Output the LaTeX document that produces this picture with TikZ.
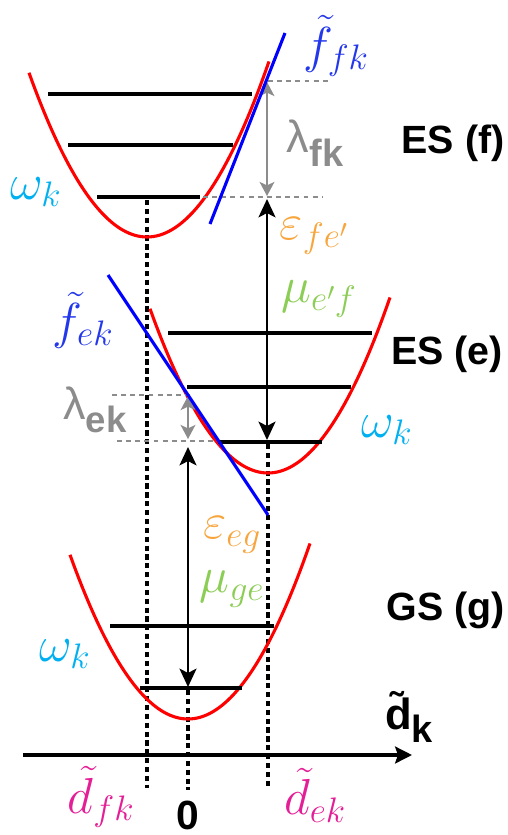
\documentclass[tikz,border=0pt]{standalone}
\usepackage{fix-cm}
\usepackage{amsmath}
\usepackage{fontspec}
\setsansfont{Liberation Sans}
\usetikzlibrary{arrows.meta}
\definecolor{wcyan}{RGB}{0,176,240}
\definecolor{eorange}{RGB}{247,165,60}
\definecolor{mgreen}{RGB}{140,205,85}
\definecolor{dmag}{RGB}{228,30,150}
\definecolor{tblue}{RGB}{35,55,235}
\definecolor{lgray}{RGB}{140,140,140}

\begin{document}
\begin{tikzpicture}[x=0.025cm, y=-0.025cm,
  every node/.style={inner sep=0pt},
  well/.style={red, line width=2.2pt},
  lvl/.style={line width=2.2pt},
  tang/.style={blue, line width=2.2pt},
  guide/.style={line width=2.3pt, dash pattern=on 3.7pt off 2.6pt},
  gdash/.style={lgray, line width=1.5pt, dash pattern=on 3.5pt off 3pt},
  arr/.style={line width=2.1pt, {Stealth[length=13pt, width=12pt, inset=3pt]}-{Stealth[length=13pt, width=12pt, inset=3pt]}},
  garr/.style={lgray, line width=1.6pt, {Stealth[length=10pt, width=10.5pt, inset=2.5pt]}-{Stealth[length=10pt, width=10.5pt, inset=2.5pt]}},
  mlab/.style={font=\fontsize{36}{40}\selectfont},
  state/.style={font=\fontsize{28}{32}\selectfont\sffamily\bfseries},
  glab/.style={lgray, font=\fontsize{32}{34}\selectfont\sffamily}
]
\useasboundingbox (0,0) rectangle (507,835);
% coordinates
\coordinate (axL) at (23,755);
\coordinate (axR) at (412,755);
\coordinate (dfTop) at (147,200);
\coordinate (dfBot) at (147,788);
\coordinate (zTop) at (188,690);
\coordinate (zBot) at (188,790);
\coordinate (deTop) at (268,444);
\coordinate (deBot) at (268,788);
\coordinate (fA) at (97,197);   \coordinate (fB) at (200,197);
\coordinate (fC) at (68,145);   \coordinate (fD) at (233,145);
\coordinate (fE) at (48,94);    \coordinate (fF) at (252,94);
\coordinate (eA) at (218,442);  \coordinate (eB) at (322,442);
\coordinate (eC) at (187,387);  \coordinate (eD) at (351,387);
\coordinate (eE) at (168,333);  \coordinate (eF) at (372,333);
\coordinate (gA) at (140,688);  \coordinate (gB) at (242,688);
\coordinate (gC) at (110,626);  \coordinate (gD) at (274,626);
\coordinate (tfA) at (210,224); \coordinate (tfB) at (285,33);
\coordinate (teA) at (108,275); \coordinate (teB) at (268,515);

% guides and axis
\draw[guide] (dfTop) -- (dfBot);
\draw[guide] (zTop) -- (zBot);
\draw[guide] (deTop) -- (deBot);
\draw[line width=2.2pt, -{Stealth[length=12pt, width=12pt, inset=2pt]}] (axL) -- (axR);

% wells
\draw[well] plot[domain=-118:122, samples=80] ({147+\x},{237-0.0118*\x*\x});
\draw[well] plot[domain=-118:122, samples=80] ({268+\x},{473-0.0118*\x*\x});
\draw[well] plot[domain=-118:122, samples=80] ({188+\x},{719-0.0118*\x*\x});

% levels
\draw[lvl] (fA) -- (fB);
\draw[lvl] (fC) -- (fD);
\draw[lvl] (fE) -- (fF);
\draw[lvl] (eA) -- (eB);
\draw[lvl] (eC) -- (eD);
\draw[lvl] (eE) -- (eF);
\draw[lvl] (gA) -- (gB);
\draw[lvl] (gC) -- (gD);

% reorganisation
\coordinate (lfT) at (267,82);   \coordinate (lfB) at (267,196);
\coordinate (lfTa) at (268,81);  \coordinate (lfTb) at (328,81);
\coordinate (lfBa) at (203,197); \coordinate (lfBb) at (323,197);
\coordinate (leT) at (188,396);  \coordinate (leB) at (188,439);
\coordinate (leTa) at (112,395); \coordinate (leTb) at (190,395);
\coordinate (leBa) at (117,441); \coordinate (leBb) at (218,441);
\draw[gdash] (lfTa) -- (lfTb);
\draw[gdash] (lfBa) -- (lfBb);
\draw[gdash] (leTa) -- (leTb);
\draw[gdash] (leBa) -- (leBb);
\draw[garr] (lfT) -- (lfB);
\draw[garr] (leT) -- (leB);
\draw[tang] (tfA) -- (tfB);
\draw[tang] (teA) -- (teB);

% transitions
\coordinate (xfT) at (267,199); \coordinate (xfB) at (267,440);
\coordinate (xeT) at (188,447); \coordinate (xeB) at (188,687);
\draw[arr] (xfT) -- (xfB);
\draw[arr] (xeT) -- (xeB);

% labels
\node[mlab, tblue] (ffk) at (336,46) {$\tilde{f}_{fk}$};
\node[state] (esf) at (453,143) {ES (f)};
\node[mlab, wcyan] (wf) at (36,192) {$\omega_k$};
\node[glab] (lfk) at (315,143) {λ\raisebox{-0.3em}{\fontsize{27}{27}\selectfont\bfseries fk}};
\node[mlab, eorange] (efe) at (314,236) {$\varepsilon_{fe'}$};
\node[mlab, mgreen] (mef) at (319,299) {$\mu_{e'f}$};
\node[mlab, tblue] (fek) at (83,320) {$\tilde{f}_{ek}$};
\node[state] (ese) at (447,354) {ES (e)};
\node[glab] (lek) at (95,410) {λ\raisebox{-0.3em}{\fontsize{26}{26}\selectfont\bfseries ek}};
\node[mlab, wcyan] (we) at (387,430) {$\omega_k$};
\node[mlab, eorange] (eeg) at (232,535) {$\varepsilon_{eg}$};
\node[mlab, mgreen] (mge) at (232,589) {$\mu_{ge}$};
\node[state] (gsg) at (446,610) {GS (g)};
\node[mlab, wcyan] (wg) at (65,654) {$\omega_k$};
\node[font=\fontsize{31}{34}\selectfont\sffamily\bfseries] (dk) at (409,717)
  {\~{d}\raisebox{-0.3em}{\fontsize{27}{27}\selectfont k}};
\node[mlab, dmag] (dfk) at (101,797) {$\tilde{d}_{fk}$};
\node[font=\fontsize{29}{32}\selectfont\sffamily\bfseries] (zero) at (188,815) {0};
\node[mlab, dmag] (dek) at (315,795) {$\tilde{d}_{ek}$};
\end{tikzpicture}
\end{document}
